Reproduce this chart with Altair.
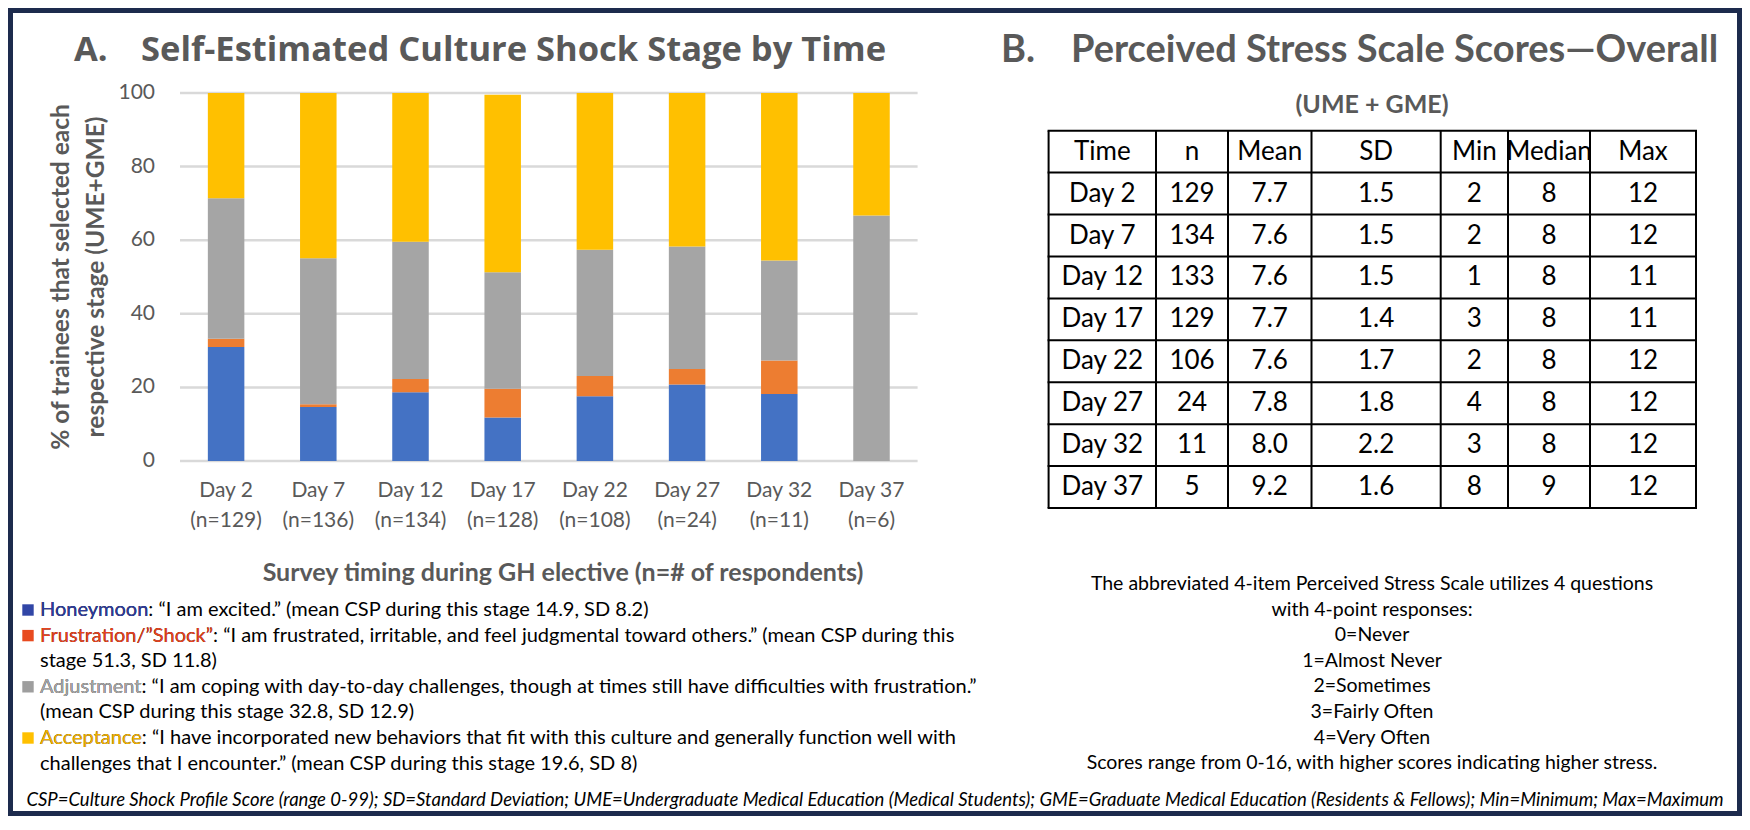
import altair as alt
import pandas as pd

# ---------------- data ----------------
days = ["Day 2", "Day 7", "Day 12", "Day 17", "Day 22", "Day 27", "Day 32", "Day 37"]
n_labels = ["(n=129)", "(n=136)", "(n=134)", "(n=128)", "(n=108)", "(n=24)", "(n=11)", "(n=6)"]
stages = ["Honeymoon", "Frustration/”Shock”", "Adjustment", "Acceptance"]
honeymoon = [31.0, 14.7, 18.7, 11.8, 17.6, 20.8, 18.2, 0.0]
frustration = [2.2, 0.7, 3.6, 7.8, 5.5, 4.2, 9.1, 0.0]
adjustment = [38.2, 39.7, 37.3, 31.7, 34.3, 33.3, 27.2, 66.7]
acceptance = [28.6, 44.9, 40.4, 48.2, 42.6, 41.7, 45.5, 33.3]
y_ticks = [0, 20, 40, 60, 80, 100]

table_header = ["Time", "n", "Mean", "SD", "Min", "Median", "Max"]
t_time = ["Day 2", "Day 7", "Day 12", "Day 17", "Day 22", "Day 27", "Day 32", "Day 37"]
t_n = ["129", "134", "133", "129", "106", "24", "11", "5"]
t_mean = ["7.7", "7.6", "7.6", "7.7", "7.6", "7.8", "8.0", "9.2"]
t_sd = ["1.5", "1.5", "1.5", "1.4", "1.7", "1.8", "2.2", "1.6"]
t_min = ["2", "2", "1", "3", "2", "4", "3", "8"]
t_median = ["8", "8", "8", "8", "8", "8", "8", "9"]
t_max = ["12", "12", "11", "11", "12", "12", "12", "12"]

title_a = ["A.", "Self-Estimated Culture Shock Stage by Time"]
title_b = ["B.", "Perceived Stress Scale Scores—Overall", "(UME + GME)"]
y_title = ["% of trainees that selected each", "respective stage (UME+GME)"]
x_title = "Survey timing during GH elective (n=# of respondents)"
legend_lines = [
    ("Honeymoon", ": “I am excited.” (mean CSP during this stage 14.9, SD 8.2)"),
    ("Frustration/”Shock”", ": “I am frustrated, irritable, and feel judgmental toward others.” (mean CSP during this"),
    ("", "stage 51.3, SD 11.8)"),
    ("Adjustment", ": “I am coping with day-to-day challenges, though at times still have difficulties with frustration.”"),
    ("", "(mean CSP during this stage 32.8, SD 12.9)"),
    ("Acceptance", ": “I have incorporated new behaviors that fit with this culture and generally function well with"),
    ("", "challenges that I encounter.” (mean CSP during this stage 19.6, SD 8)"),
]
note_lines = [
    "The abbreviated 4-item Perceived Stress Scale  utilizes 4 questions",
    "with 4-point responses:",
    "0=Never",
    "1=Almost Never",
    "2=Sometimes",
    "3=Fairly Often",
    "4=Very Often",
    "Scores range from 0-16, with higher scores indicating higher stress.",
]
footer = ("CSP=Culture Shock Profile Score (range 0-99); SD=Standard Deviation; "
          "UME=Undergraduate Medical Education (Medical Students); GME=Graduate Medical "
          "Education (Residents & Fellows); Min=Minimum; Max=Maximum")

# ---------------- style / layout ----------------
W, H = 1734, 808
OFF = 8
def P(v):
    return v - OFF

BAR_COLORS = ["#4472C4", "#ED7D31", "#A5A5A5", "#FFC000"]
LABEL_COLORS = ["#2E3C9B", "#E8431E", "#A6A6A6", "#F2B200"]
SQUARE_COLORS = ["#3146A6", "#E84A1F", "#9E9E9E", "#FFC000"]
GRAY = "#595959"
NAVY = "#1d2b4d"
BODY_FONT = "Lato"

one = pd.DataFrame({"k": [0]})

# bar chart data
rows = []
for i, d in enumerate(days):
    for s_i, (s, vals) in enumerate(zip(stages, [honeymoon, frustration, adjustment, acceptance])):
        rows.append({"day": d, "stage": s, "value": vals[i], "order": s_i})
bar_df = pd.DataFrame(rows)

x_scale = alt.Scale(domain=days, range=[P(180), P(917.6)], paddingInner=0.604, paddingOuter=0.302)
y_scale = alt.Scale(domain=[0, 100], range=[P(461), P(93)], nice=False)

bars = alt.Chart(bar_df).mark_bar().encode(
    x=alt.X("day:N", scale=x_scale, axis=None, sort=days),
    y=alt.Y("value:Q", stack="zero", scale=y_scale, axis=None),
    color=alt.Color("stage:N", scale=alt.Scale(domain=stages, range=BAR_COLORS), legend=None),
    order=alt.Order("order:Q", sort="ascending"),
)

tick_df = pd.DataFrame({"t": y_ticks})
grid = alt.Chart(tick_df).mark_rule(color="#d9d9d9", strokeWidth=2.5).encode(
    y=alt.Y("t:Q", scale=y_scale, axis=None),
    x=alt.value(P(180)), x2=alt.value(P(917.6)),
)
tick_labels = alt.Chart(tick_df).mark_text(
    align="right", baseline="middle", font=BODY_FONT, fontSize=21, color=GRAY
).encode(y=alt.Y("t:Q", scale=y_scale, axis=None), x=alt.value(P(155)), text="t:Q")

day_df = pd.DataFrame({"day": days, "nlab": n_labels})
x_lab1 = alt.Chart(day_df).mark_text(baseline="middle", font=BODY_FONT, fontSize=21, color=GRAY).encode(
    x=alt.X("day:N", scale=x_scale, axis=None, bandPosition=0.5), y=alt.value(P(491)), text="day:N")
x_lab2 = alt.Chart(day_df).mark_text(baseline="middle", font=BODY_FONT, fontSize=21, color=GRAY).encode(
    x=alt.X("day:N", scale=x_scale, axis=None, bandPosition=0.5), y=alt.value(P(521)), text="nlab:N")


def txt(s, x, y, size, align="left", color="black", weight="normal", font=BODY_FONT, style="normal", angle=0):
    kw = dict(align=align, baseline="middle", fontSize=size, color=color, fontWeight=weight,
              font=font, fontStyle=style)
    if angle:
        kw["angle"] = angle
    return alt.Chart(one).mark_text(**kw).encode(x=alt.value(P(x)), y=alt.value(P(y)), text=alt.value(s))


layers = [grid, bars, tick_labels, x_lab1, x_lab2]

# titles
layers.append(txt(title_a[0], 74, 51, 34.5, color=GRAY, weight="bold", font="Open Sans"))
layers.append(txt(title_a[1], 141, 51, 34.5, color=GRAY, weight="bold", font="Open Sans"))
layers.append(txt(title_b[0], 1001, 51, 38, color=GRAY, weight="bold"))
layers.append(txt(title_b[1], 1071, 51, 38, color=GRAY, weight="bold"))
layers.append(txt(title_b[2], 1372, 105, 25, align="center", color=GRAY, weight="bold"))

# axis titles
layers.append(txt(y_title[0], 62, 277, 24.5, align="center", color=GRAY, weight="bold", angle=270))
layers.append(txt(y_title[1], 97, 277, 24.5, align="center", color=GRAY, weight="bold", angle=270))
layers.append(txt(x_title, 563, 573, 25, align="center", color=GRAY, weight="bold"))

# legend
leg_y0, leg_dy = 610, 25.6
stage_i = 0
for li, (lab, rest) in enumerate(legend_lines):
    y = leg_y0 + li * leg_dy
    if lab:
        layers.append(alt.Chart(one).mark_square(size=130, filled=True, opacity=1,
                                                 color=SQUARE_COLORS[stage_i]).encode(
            x=alt.value(P(28)), y=alt.value(P(y))))
        layers.append(txt(lab + rest, 40, y, 20))
        layers.append(txt(lab, 40, y, 20, color=LABEL_COLORS[stage_i]))
        stage_i += 1
    else:
        layers.append(txt(rest, 40, y, 20))

# table
table_cols = [t_time, t_n, t_mean, t_sd, t_min, t_median, t_max]
col_edges = [1048.6, 1156, 1228, 1311.5, 1440.7, 1508, 1590, 1696]
tab_top, tab_bot = 130.7, 508
row_ids = list(range(len(t_time) + 1))
row_scale = alt.Scale(domain=row_ids, range=[P(tab_top), P(tab_bot)], paddingInner=0, paddingOuter=0)
for ci, (hdr, vals) in enumerate(zip(table_header, table_cols)):
    cdf = pd.DataFrame({"row": row_ids, "val": [hdr] + vals})
    cx = (col_edges[ci] + col_edges[ci + 1]) / 2
    layers.append(alt.Chart(cdf).mark_text(baseline="middle", align="center", font=BODY_FONT,
                                           fontSize=26, color="black").encode(
        y=alt.Y("row:O", scale=row_scale, axis=None, bandPosition=0.5),
        x=alt.value(P(cx)), text="val:N"))
hline_df = pd.DataFrame({"b": list(range(len(row_ids) + 1))})
layers.append(alt.Chart(hline_df).mark_rule(color="black", strokeWidth=2).encode(
    y=alt.Y("b:Q", scale=alt.Scale(domain=[0, len(row_ids)], range=[P(tab_top), P(tab_bot)],
                                   nice=False, zero=False), axis=None),
    x=alt.value(P(col_edges[0]) - 1), x2=alt.value(P(col_edges[-1]) + 1)))
for e in col_edges:
    layers.append(alt.Chart(one).mark_rule(color="black", strokeWidth=2).encode(
        x=alt.value(P(e)), y=alt.value(P(tab_top)), y2=alt.value(P(tab_bot))))

# note below table
note_y0, note_dy = 584, 25.6
for li, s in enumerate(note_lines):
    layers.append(txt(s, 1372, note_y0 + li * note_dy, 19.5, align="center"))

# footer
layers.append(txt(footer, 875, 800, 18.5, align="center", style="italic"))

# frame
layers.append(alt.Chart(one).mark_rect(filled=False, stroke=NAVY, strokeWidth=10).encode(
    x=alt.value(0), x2=alt.value(W), y=alt.value(0), y2=alt.value(H)))

chart = alt.layer(*layers).resolve_scale(
    x="independent", y="independent", color="independent"
).properties(
    width=W, height=H, autosize=alt.AutoSizeParams(type="none"), padding=0, background="white"
).configure_view(stroke=None)

chart.save("out.html", embed_options={"renderer": "svg", "actions": False})
